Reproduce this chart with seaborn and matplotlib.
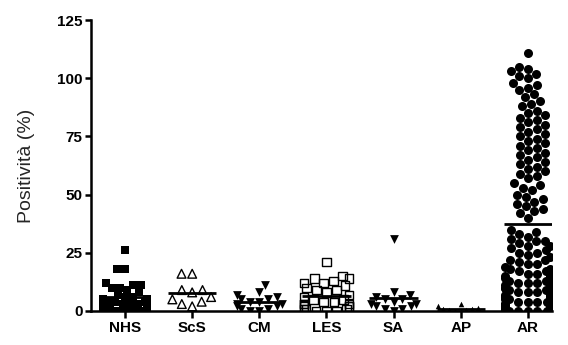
import matplotlib
matplotlib.use("Agg")
import numpy as np
import matplotlib.pyplot as plt
import seaborn as sns

categories = ["NHS", "ScS", "CM", "LES", "SA", "AP", "AR"]

nhs = [26, 18, 18, 12, 11, 11, 10, 10, 9, 8, 7, 6, 6, 5, 5, 5, 4, 4, 4, 3, 3, 3,
       2, 2, 2, 1, 1, 1, 0, 0, 0, 0]
scs = [16, 16, 9, 9, 8, 6, 5, 4, 3, 2]
cm = [11, 8, 7, 6, 5, 5, 4, 4, 3, 3, 2, 2, 1, 1, 0, 0]
les = [21, 15, 14, 14, 13, 12, 12, 11, 10, 9, 9, 8, 7, 6, 5, 5, 4, 4, 3, 3, 3,
       2, 2, 2, 1, 1, 1, 0, 0, 0]
sa = [31, 8, 7, 6, 5, 5, 4, 3, 3, 2, 2, 1, 1, 0]
ap = [3, 2, 1.5, 1, 1, 0.5, 0.5, 0, 0]
ar = [111, 105, 104, 103, 102, 101, 100, 98, 97, 96, 95, 93, 92, 90, 89, 88, 86,
      85, 84, 83, 82, 81, 80, 79, 78, 77, 76, 75, 74, 73, 72, 71, 70, 69, 68, 67,
      66, 65, 64, 63, 62, 61, 60, 59, 58, 57, 55, 54, 53, 52, 50, 49, 48, 47, 46,
      45, 44, 43, 42, 40,
      35, 34, 33, 32, 31, 30, 30, 29, 28, 28, 27, 26, 25, 25, 24, 23, 22, 22, 21,
      20, 20, 19, 18, 18, 17, 17, 16, 16, 15, 15, 14, 14, 13, 13, 12, 12, 12, 11,
      11, 10, 10, 10, 9, 9, 9, 8, 8, 8, 7, 7, 7, 6, 6, 6, 5, 5, 5, 5, 4, 4, 4, 4,
      3, 3, 3, 3, 2, 2, 2, 2, 2, 1, 1, 1, 1, 1, 0.5, 0.5, 0, 0, 0, 0, 0, 0, 0]

y_ticks = [0, 25, 50, 75, 100, 125]

groups = [nhs, scs, cm, les, sa, ap, ar]
# marker, size (pt), open face
styles = [("s", 5.3, False), ("^", 6.3, True), ("v", 6.3, False),
          ("s", 6.0, True), ("v", 6.3, False), ("^", 4.0, False), ("o", 6.5, False)]

# column centres are spread 1.2 apart so each swarm fills ~2/3 of its slot
step = 1.2
positions = [i * step for i in range(len(categories))]

sns.set_theme(style="ticks")
plt.rcParams["font.family"] = ["Liberation Sans", "DejaVu Sans"]

fig = plt.figure(figsize=(5.68, 3.45), dpi=100)
ax = fig.add_axes([91 / 568, 1 - 311 / 345, (552 - 91) / 568, (311 - 20) / 345])

for pos, vals, (mk, sz, hollow) in zip(positions, groups, styles):
    n_before = len(ax.collections)
    sns.swarmplot(x=[pos] * len(vals), y=vals, native_scale=True, orient="x",
                  marker=mk, size=sz, color="black", linewidth=0,
                  warn_thresh=1.0, ax=ax)
    if hollow:
        for coll in ax.collections[n_before:]:
            coll.set_facecolor("none")
            coll.set_edgecolor("black")
            coll.set_linewidth(1.0)

# group means
for pos, vals in zip(positions, groups):
    ax.hlines(np.mean(vals), pos - 0.36 * step, pos + 0.36 * step,
              color="black", lw=2, zorder=5)

ax.set_xlim(-0.507 * step, 6.36 * step)
ax.set_ylim(0, 125)
ax.set_yticks(y_ticks)
ax.set_yticklabels([str(t) for t in y_ticks], fontsize=11, fontweight="bold")
ax.set_xticks(positions)
ax.set_xticklabels(categories, fontsize=11, fontweight="bold")
ax.set_xlabel("")
ax.set_ylabel("Positività (%)", fontsize=14, labelpad=16)

for side in ("top", "right"):
    ax.spines[side].set_visible(False)
for side in ("left", "bottom"):
    ax.spines[side].set_linewidth(1.8)
    ax.spines[side].set_color("black")
ax.tick_params(axis="y", length=4.5, width=1.8, pad=1.5, colors="black")
ax.tick_params(axis="x", length=5, width=1.8, pad=2, colors="black")

fig.savefig("out.png", dpi=100)
